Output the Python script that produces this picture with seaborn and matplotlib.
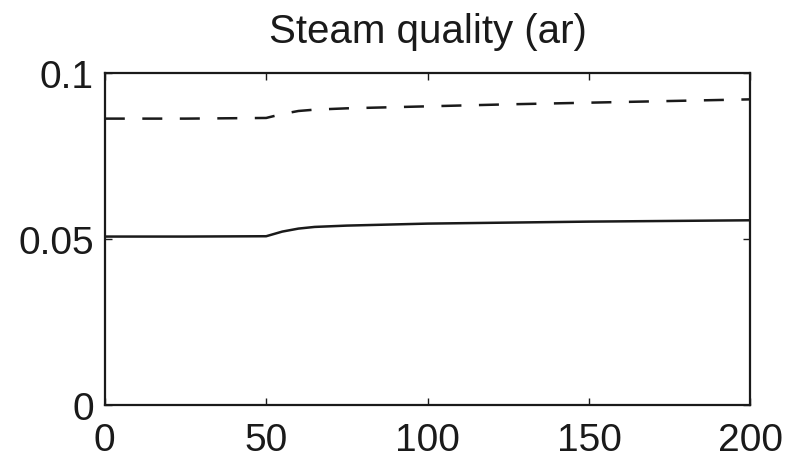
import matplotlib
matplotlib.use("Agg")
import matplotlib.pyplot as plt
import seaborn as sns
import pandas as pd

# Data
t = [0, 25, 50, 55, 60, 65, 75, 100, 125, 150, 175, 200]
solid_q = [0.0507, 0.0507, 0.0508, 0.0522, 0.0531, 0.0536, 0.0540, 0.0546, 0.0549, 0.0552, 0.0554, 0.0556]
dashed_q = [0.0862, 0.0862, 0.0864, 0.0876, 0.0885, 0.0889, 0.0893, 0.0899, 0.0905, 0.0910, 0.0915, 0.0920]
x_ticks = [0, 50, 100, 150, 200]
y_ticks = [0, 0.05, 0.1]
y_tick_labels = ["0", "0.05", "0.1"]
title = "Steam quality (ar)"

sns.set_style("ticks")
plt.rcParams["font.family"] = ["Liberation Sans", "DejaVu Sans"]

df = pd.DataFrame({"t": t, "solid": solid_q, "dashed": dashed_q})

fig = plt.figure(figsize=(7.94, 4.64), dpi=100)
ax = fig.add_axes([0.132, 0.125, 0.813, 0.716])

sns.lineplot(data=df, x="t", y="solid", ax=ax, color="#1a1a1a", linewidth=1.8)
sns.lineplot(data=df, x="t", y="dashed", ax=ax, color="#1a1a1a", linewidth=1.8,
             linestyle=(0, (8, 7)))

ax.set_xlim(0, 200)
ax.set_ylim(0, 0.1)
ax.set_xticks(x_ticks)
ax.set_xticklabels([str(v) for v in x_ticks])
ax.set_yticks(y_ticks)
ax.set_yticklabels(y_tick_labels)
ax.set_xlabel("")
ax.set_ylabel("")
ax.tick_params(direction="in", length=5, width=1, labelsize=28, top=True, right=True,
               colors="#1a1a1a")
ax.tick_params(axis="x", pad=12)
ax.tick_params(axis="y", pad=8)
for s in ax.spines.values():
    s.set_visible(True)
    s.set_linewidth(1.6)
    s.set_color("#1a1a1a")
ax.set_title(title, fontsize=29, color="#1a1a1a", pad=22)

fig.savefig("out.png", dpi=100, facecolor="white")
